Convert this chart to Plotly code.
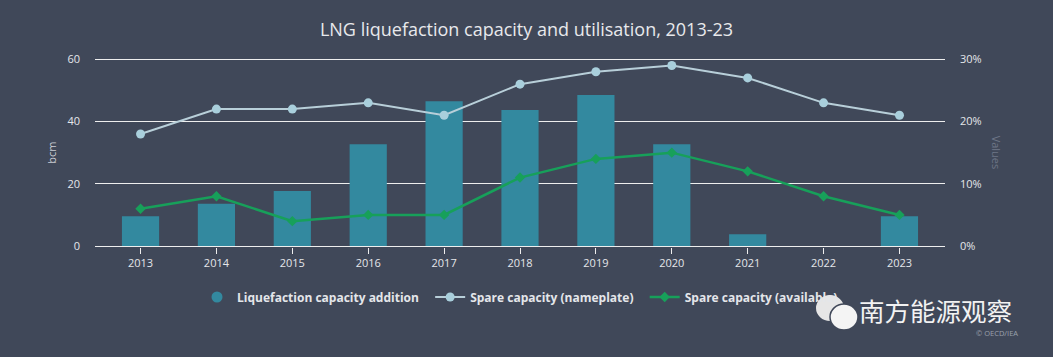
import plotly.graph_objects as go

years = ["2013", "2014", "2015", "2016", "2017", "2018", "2019", "2020", "2021", "2022", "2023"]
capacity_addition = [9.6, 13.6, 17.7, 32.7, 46.5, 43.7, 48.5, 32.7, 3.8, None, 9.6]
spare_nameplate = [18, 22, 22, 23, 21, 26, 28, 29, 27, 23, 21]
spare_available = [6, 8, 4, 5, 5, 11, 14, 15, 12, 8, 5]
left_ticks = [0, 20, 40, 60]
right_ticks = [0, 10, 20, 30]
right_labels = ["0%", "10%", "20%", "30%"]

BG = "#404859"
TXT = "#e4e6ea"
BAR = "#33899f"
NAME = "#a9cfdc"
AVAIL = "#17a05a"
GRID = "#eeeeee"

NB = "\u00a0"

fig = go.Figure()
fig.add_trace(go.Bar(x=years, y=capacity_addition, name="Liquefaction capacity addition",
                     marker=dict(color=BAR, line=dict(width=0)), width=0.49, showlegend=False))
fig.add_trace(go.Scatter(x=[None], y=[None], mode="markers",
                         name="Liquefaction capacity addition" + NB * 2,
                         marker=dict(color=BAR, size=11, symbol="circle")))
fig.add_trace(go.Scatter(x=years, y=spare_nameplate, name="Spare capacity (nameplate)" + NB * 2, yaxis="y2",
                         mode="lines+markers", line=dict(color="#b8cfd9", width=2),
                         marker=dict(color=NAME, size=9, symbol="circle")))
fig.add_trace(go.Scatter(x=years, y=spare_available, name="Spare capacity (available)", yaxis="y2",
                         mode="lines+markers", line=dict(color=AVAIL, width=2.5),
                         marker=dict(color=AVAIL, size=8, symbol="diamond")))

fig.update_layout(
    width=1053, height=357,
    paper_bgcolor=BG, plot_bgcolor=BG,
    margin=dict(l=95, r=108, t=58, b=107),
    font=dict(family="Open Sans", color=TXT, size=11),
    title=dict(text="LNG liquefaction capacity and utilisation, 2013-23", x=0.5, xanchor="center",
               y=1 - 30 / 357, yanchor="middle", font=dict(size=18, color="#e8e9ec")),
    xaxis=dict(type="category", range=[-0.6, 10.6], showgrid=False, zeroline=False,
               ticks="outside", ticklen=6, tickcolor=GRID, tickfont=dict(size=11, color=TXT),
               showline=False),
    yaxis=dict(range=[-0.4, 60.4], tickvals=left_ticks, gridcolor=GRID, gridwidth=1.2,
               zeroline=False, tickfont=dict(size=11, color=TXT), ticklabelstandoff=14,
               title=dict(text="bcm", font=dict(size=11, color="#c9ccd3"), standoff=8)),
    yaxis2=dict(range=[-0.2, 30.2], tickvals=right_ticks, ticktext=right_labels, overlaying="y", side="right",
                showgrid=False, zeroline=False, tickfont=dict(size=11, color=TXT), ticklabelstandoff=14),
    legend=dict(orientation="h", x=0.5, xanchor="center", xref="paper", yref="container",
                y=1 - 297 / 357, yanchor="middle", font=dict(size=12, color=TXT, weight="bold"),
                bgcolor="rgba(0,0,0,0)", itemwidth=30, tracegroupgap=0),
    showlegend=True,
)

fig.add_annotation(text="Values", textangle=90, xref="paper", yref="paper",
                   x=1 + (996 - 945) / 850, y=0.5, showarrow=False,
                   font=dict(size=11, color="#6d7586"), xanchor="center", yanchor="middle")
fig.add_annotation(text="南方能源观察", xref="paper", yref="paper",
                   x=1 + (1014 - 945) / 850, y=-(311 - 249) / 190, showarrow=False,
                   xanchor="right", yanchor="middle",
                   font=dict(size=25.5, color="#f2f2f2", family="Noto Sans CJK SC"))
fig.add_annotation(text="© OECD/IEA", xref="paper", yref="paper",
                   x=1 + (1020 - 945) / 850, y=-(335 - 249) / 190, showarrow=False,
                   xanchor="right", yanchor="middle", font=dict(size=7.5, color="#9aa0ab"))
# WeChat-like watermark bubbles
fig.add_shape(type="circle", xref="paper", yref="paper",
              x0=(816 - 95) / 850, x1=(844 - 95) / 850, y0=-(323 - 249) / 190, y1=-(297 - 249) / 190,
              fillcolor="#e6e6e6", line=dict(width=0))
fig.add_shape(type="circle", xref="paper", yref="paper",
              x0=(830 - 95) / 850, x1=(858 - 95) / 850, y0=-(332 - 249) / 190, y1=-(306 - 249) / 190,
              fillcolor="#f4f4f4", line=dict(color=BG, width=1.5))

fig.write_html("out.html", config={"displayModeBar": False},
               post_script="document.body.style.margin='0';")
